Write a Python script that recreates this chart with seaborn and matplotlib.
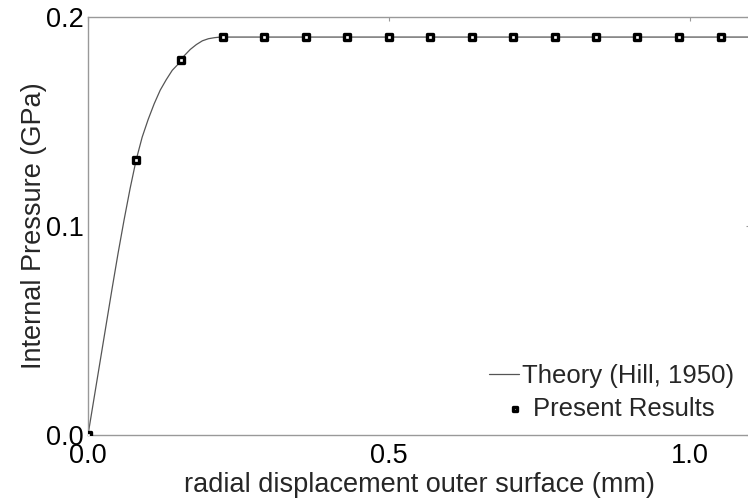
import matplotlib
matplotlib.use("Agg")
import matplotlib.pyplot as plt
import seaborn as sns
import pandas as pd

# Theory curve (Hill, 1950)
theory_x = [0.0, 0.01, 0.02, 0.03, 0.04, 0.05, 0.06, 0.07, 0.08, 0.09, 0.10, 0.11,
            0.12, 0.13, 0.14, 0.15, 0.16, 0.17, 0.18, 0.19, 0.20, 0.21, 0.22, 0.23,
            0.40, 0.60, 0.80, 1.00, 1.10]
theory_y = [0.0, 0.0175, 0.035, 0.0525, 0.070, 0.087, 0.103, 0.118, 0.1316, 0.1425,
            0.151, 0.1585, 0.165, 0.170, 0.1745, 0.1775, 0.1815, 0.1845, 0.1868,
            0.1886, 0.1896, 0.1901, 0.1904, 0.1904,
            0.1904, 0.1904, 0.1904, 0.1904, 0.1904]

# Present results
res_x = [0.0, 0.080, 0.1545, 0.224, 0.293, 0.362, 0.431, 0.500, 0.569, 0.638,
         0.707, 0.776, 0.844, 0.913, 0.982, 1.051]
res_y = [0.0, 0.1316, 0.1794, 0.1904, 0.1904, 0.1904, 0.1904, 0.1904, 0.1904, 0.1904,
         0.1904, 0.1904, 0.1904, 0.1904, 0.1904, 0.1904]

xticks = [0.0, 0.5, 1.0]
yticks = [0.0, 0.1, 0.2]

sns.set_style("white")
plt.rcParams['font.family'] = ['Liberation Sans', 'DejaVu Sans']

fig = plt.figure(figsize=(7.48, 5.04), dpi=100)
ax = fig.add_axes([88/748, 69/504, 662/748, 418/504])

df_t = pd.DataFrame({"x": theory_x, "y": theory_y})
df_r = pd.DataFrame({"x": res_x, "y": res_y})

sns.lineplot(data=df_t, x="x", y="y", ax=ax, color="#555555", linewidth=0.9,
             label="Theory (Hill, 1950)", legend=False, sort=False)
sns.scatterplot(data=df_r, x="x", y="y", ax=ax, marker="s", s=18,
                facecolor="white", edgecolor="black", linewidth=2.4,
                label="Present Results", legend=False, zorder=3)

ax.set_xlim(0, 1.1)
ax.set_ylim(0, 0.2)
ax.set_xticks(xticks)
ax.set_yticks(yticks)
ax.set_xticklabels([f"{v:.1f}" for v in xticks])
ax.set_yticklabels([f"{v:.1f}" for v in yticks])
ax.tick_params(direction="in", length=3, width=0.8, color="#999999",
               labelsize=19.5, top=True, right=True, pad=3, labelcolor="black")
ax.tick_params(axis="x", pad=6)
for sp in ax.spines.values():
    sp.set_color("#999999")
    sp.set_linewidth(1.0)

ax.set_xlabel("radial displacement outer surface (mm)", fontsize=19.5, labelpad=2)
ax.set_ylabel("Internal Pressure (GPa)", fontsize=19.5, labelpad=-1)

handles, labels = ax.get_legend_handles_labels()
h_line = [h for h, l in zip(handles, labels) if l.startswith("Theory")]
h_pts = [h for h, l in zip(handles, labels) if l.startswith("Present")]

leg1 = ax.legend(h_line, ["Theory (Hill, 1950)"], loc="center right",
                 bbox_to_anchor=(0.976, 0.142), frameon=False, fontsize=18.5,
                 handlelength=1.2, handletextpad=0.1, borderpad=0, borderaxespad=0)
ax.add_artist(leg1)
ax.legend(h_pts, ["Present Results"], loc="center right",
          bbox_to_anchor=(0.946, 0.062), frameon=False, fontsize=18.5,
          handlelength=0.6, handletextpad=0.4, borderpad=0, borderaxespad=0,
          markerscale=0.8)

fig.savefig("out.png", dpi=100)
